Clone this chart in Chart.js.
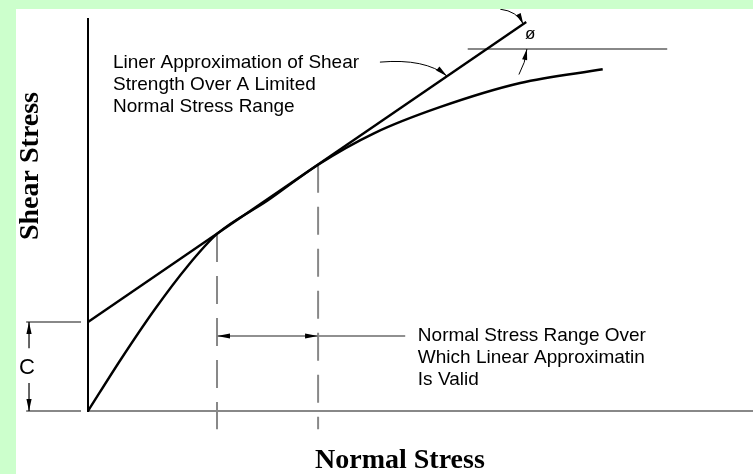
<!DOCTYPE html>
<html>
<head>
<meta charset="utf-8">
<script src="https://cdn.jsdelivr.net/npm/chart.js@4.4.1/dist/chart.umd.min.js"></script>
<style>
	html, body { margin: 0; padding: 0; background: #ccffcc; overflow: hidden; }
	#wrap { position: absolute; left: 16px; top: 9px; width: 737px; height: 465px; background: #fff; }
</style>
</head>
<body>
<div id="wrap"><canvas id="envelope" width="737" height="465"></canvas></div>
<script>
// failure envelope (curved) - normal stress vs shear stress, arbitrary units
var curveX = [0, 0.5, 1.0, 1.5, 1.94, 2.7, 3.46, 4.3, 5.29, 6.5, 7.74];
var curveY = [0, 0.8, 1.55, 2.22, 2.71, 3.22, 3.77, 4.25, 4.65, 5.02, 5.23];

// linear approximation of the envelope
var lineX = [0, 6.59];
var lineY = [1.362, 5.955];

// points where the straight line meets the curve
var tangentX = [1.94, 3.46];
var tangentY = [2.71, 3.77];

// axis ranges
var xRange = [0, 10];
var yRange = [0, 6];

// text
var xTitle = "Normal Stress";
var yTitle = "Shear Stress";
var noteLine = ["Liner Approximation of Shear", "Strength Over A Limited", "Normal Stress Range"];
var noteRange = ["Normal Stress Range Over", "Which Linear Approximatin", "Is Valid"];
var cohesionLabel = "C";
var phiLabel = "\u00f8";

function pts(xs, ys) {
	var out = [];
	for (var i = 0; i < xs.length; i++) {
		out.push({ x: xs[i], y: ys[i] });
	}
	return out;
}

function seg(data, color, width, dash) {
	return {
		data: data,
		showLine: true,
		borderColor: color,
		borderWidth: width,
		borderDash: dash || [],
		pointRadius: 0,
		fill: false,
		clip: false
	};
}

function arrowHead(ctx, fx, fy, tx, ty, len, half) {
	var a = Math.atan2(ty - fy, tx - fx);
	ctx.beginPath();
	ctx.moveTo(tx, ty);
	ctx.lineTo(tx - len * Math.cos(a) + half * Math.sin(a), ty - len * Math.sin(a) - half * Math.cos(a));
	ctx.lineTo(tx - len * Math.cos(a) - half * Math.sin(a), ty - len * Math.sin(a) + half * Math.cos(a));
	ctx.closePath();
	ctx.fill();
}

// annotation levels (data units)
var rangeY = 1.148;
var rangeEnd = 4.77;
var phiY = 5.54;
var dimX = -0.887;

var notes = {
	id: "notes",
	afterDraw: function (chart) {
		var ctx = chart.ctx;
		var sx = chart.scales.x, sy = chart.scales.y;
		var X = function (v) { return sx.getPixelForValue(v); };
		var Y = function (v) { return sy.getPixelForValue(v); };
		ctx.save();
		ctx.fillStyle = "#000";
		ctx.strokeStyle = "#000";

		// cohesion dimension arrows
		ctx.lineWidth = 1.2;
		ctx.beginPath();
		ctx.moveTo(X(dimX), Y(lineY[0]));
		ctx.lineTo(X(dimX), Y(0.96));
		ctx.moveTo(X(dimX), Y(0.43));
		ctx.lineTo(X(dimX), Y(0));
		ctx.stroke();
		arrowHead(ctx, X(dimX), Y(lineY[0]) + 10, X(dimX), Y(lineY[0]), 12, 2.6);
		arrowHead(ctx, X(dimX), Y(0) - 10, X(dimX), Y(0), 12, 2.6);
		ctx.font = "22px 'Liberation Sans', Arial, sans-serif";
		ctx.textAlign = "center";
		ctx.textBaseline = "middle";
		ctx.fillText(cohesionLabel, X(-0.92), Y(0.66));

		// range arrow heads
		arrowHead(ctx, X(tangentX[0]) + 12, Y(rangeY), X(tangentX[0]), Y(rangeY), 13, 2.4);
		arrowHead(ctx, X(tangentX[1]) - 12, Y(rangeY), X(tangentX[1]), Y(rangeY), 13, 2.4);

		// text blocks
		ctx.font = "19px 'Liberation Sans', Arial, sans-serif";
		ctx.textAlign = "left";
		ctx.textBaseline = "alphabetic";
		for (var i = 0; i < noteLine.length; i++) {
			ctx.fillText(noteLine[i], X(0.376), Y(5.25) + i * 22);
		}
		for (var j = 0; j < noteRange.length; j++) {
			ctx.fillText(noteRange[j], X(4.96), Y(1.07) + j * 22);
		}

		// leader from the note to the straight line
		var lx0 = X(4.39), ly0 = Y(5.34);
		var cx = X(5.07), cy = Y(5.4);
		var tip = X(5.4), tipY = Y(lineY[0] + (lineY[1] - lineY[0]) / (lineX[1] - lineX[0]) * 5.4);
		ctx.lineWidth = 1;
		ctx.beginPath();
		ctx.moveTo(lx0, ly0);
		ctx.quadraticCurveTo(cx, cy, tip, tipY);
		ctx.stroke();
		arrowHead(ctx, cx, cy, tip, tipY, 12, 2.6);

		// phi angle arcs
		var ex = X(lineX[1]) - 3, ey = Y(lineY[1]) + 2;
		ctx.beginPath();
		ctx.moveTo(X(6.2), Y(6.15));
		ctx.quadraticCurveTo(X(6.45), Y(6.12), ex, ey);
		ctx.stroke();
		arrowHead(ctx, X(6.45), Y(6.12), ex, ey, 11, 2.6);
		var bx = X(6.6), by = Y(phiY);
		ctx.beginPath();
		ctx.moveTo(X(6.48), Y(5.15));
		ctx.quadraticCurveTo(X(6.58), Y(5.33), bx, by);
		ctx.stroke();
		arrowHead(ctx, X(6.55), Y(5.3), bx, by, 11, 2.6);
		ctx.font = "17px 'Liberation Sans', Arial, sans-serif";
		ctx.textAlign = "center";
		ctx.textBaseline = "middle";
		ctx.fillText(phiLabel, X(6.65), Y(5.76));

		// axis titles
		ctx.font = "bold 28px 'Liberation Serif', 'Times New Roman', serif";
		ctx.textAlign = "center";
		ctx.textBaseline = "alphabetic";
		ctx.fillText(xTitle, X(4.69), Y(-0.873));
		ctx.translate(X(-0.75), Y(3.75));
		ctx.rotate(-Math.PI / 2);
		ctx.fillText(yTitle, 0, 0);
		ctx.restore();
	}
};

var ctx = document.getElementById("envelope");

var curveSet = seg(pts(curveX, curveY), "#000", 2.4);
curveSet.cubicInterpolationMode = "monotone";

var chart = new Chart(ctx, {
	type: "scatter",
	data: {
		datasets: [
			curveSet,
			seg(pts(lineX, lineY), "#000", 2.4),
			// dashed limits of the valid range
			seg(pts([tangentX[0], tangentX[0]], [tangentY[0], -0.28]), "#888", 2, [28, 14]),
			seg(pts([tangentX[1], tangentX[1]], [tangentY[1], -0.28]), "#888", 2, [28, 14]),
			// horizontal reference for the friction angle
			seg(pts([5.71, 8.71], [phiY, phiY]), "#888", 2),
			// cohesion extension lines
			seg(pts([-0.93, -0.105], [lineY[0], lineY[0]]), "#888", 2),
			seg(pts([-0.93, -0.105], [0, 0]), "#888", 2),
			// range dimension line
			seg(pts([tangentX[0], rangeEnd], [rangeY, rangeY]), "#222", 1.2)
		]
	},
	options: {
		responsive: false,
		animation: false,
		devicePixelRatio: 1,
		layout: { padding: { left: 64, top: 10, right: 0, bottom: 55 } },
		plugins: {
			legend: { display: false },
			tooltip: { enabled: false }
		},
		scales: {
			x: {
				type: "linear",
				min: xRange[0],
				max: xRange[1],
				grid: { display: false },
				ticks: { display: false },
				border: { display: true, color: "#888", width: 2 }
			},
			y: {
				type: "linear",
				min: yRange[0],
				max: yRange[1],
				grid: { display: false },
				ticks: { display: false },
				border: { display: true, color: "#000", width: 2 }
			}
		}
	},
	plugins: [notes]
});
</script>
</body>
</html>
